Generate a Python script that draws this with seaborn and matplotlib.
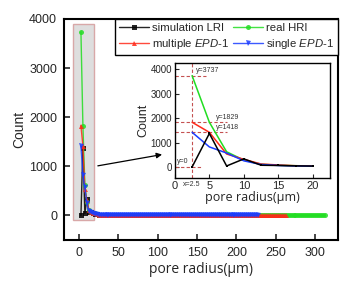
import numpy as np
import matplotlib
matplotlib.use("Agg")
import matplotlib.pyplot as plt
import matplotlib.transforms as mtransforms
from matplotlib.patches import Rectangle
import seaborn as sns

sns.set_style("ticks")
plt.rcParams['font.family'] = ['Liberation Sans', 'DejaVu Sans']
plt.rcParams['mathtext.fontset'] = 'custom'
plt.rcParams['mathtext.it'] = 'Liberation Sans:italic'
plt.rcParams['mathtext.rm'] = 'Liberation Sans'

# counts per 2.5 um radius bin (first bin centred at 2.5 um)
BIN = 2.5
lri_head = [0, 1370, 40, 330, 70, 60, 45, 35]
hri_head = [3737, 1829, 620, 280, 110, 70, 50, 40]
multi_head = [1829, 1418, 530, 310, 120, 80, 50, 40]
single_head = [1418, 820, 570, 250, 100, 60, 40, 30]
tail_small = [20, 15, 10, 5]

# series run out to different largest radii (zero counts beyond 30 um)
lri = lri_head + tail_small + [0] * 60       # ~180 um
hri = hri_head + tail_small + [0] * 113      # ~312 um
multi = multi_head + tail_small + [0] * 93   # ~262 um
single = single_head + tail_small + [0] * 79 # ~227 um

series = {
    'simulation LRI': (lri, 'black', 's'),
    'real HRI': (hri, '#22dd22', 'o'),
    'multiple $\\mathit{EPD}$-1': (multi, '#ff2a1a', '^'),
    'single $\\mathit{EPD}$-1': (single, '#1a3cff', 'v'),
}
draw_order = ['simulation LRI', 'real HRI', 'multiple $\\mathit{EPD}$-1', 'single $\\mathit{EPD}$-1']
legend_order = ['simulation LRI', 'multiple $\\mathit{EPD}$-1', 'real HRI', 'single $\\mathit{EPD}$-1']

# annotated values in the zoom panel
marks_y = [3737, 1829, 1418, 0]
mark_x = 2.5

fig = plt.figure(figsize=(3.49, 2.87), dpi=100)
ax = fig.add_axes([0.1834, 0.1638, 0.7851, 0.77])

ax.add_patch(Rectangle((-7.5, -100), 26.5, 4000, facecolor='#dedede',
                       edgecolor='#d8a8a8', lw=1, zorder=0))

handles = {}
for name in draw_order:
    vals, color, mk = series[name]
    x = BIN * np.arange(1, len(vals) + 1)
    sns.lineplot(x=x, y=vals, ax=ax, color=color, marker=mk, markersize=3.6,
                 markeredgewidth=0, linewidth=1, alpha=0.85, label=name)
    handles[name] = ax.get_lines()[-1]

ax.set_xlim(-19, 329)
ax.set_ylim(-500, 4000)
ax.set_xticks([0, 50, 100, 150, 200, 250, 300])
ax.set_yticks([0, 1000, 2000, 3000, 4000])
ax.tick_params(direction='in', length=4, width=1.2, labelsize=9, pad=5)
for s in ax.spines.values():
    s.set_linewidth(1.5)
    s.set_color('black')
ax.set_xlabel('pore radius(μm)', fontsize=10, family=['Open Sans', 'DejaVu Sans'], labelpad=2)
ax.set_ylabel('Count', fontsize=10, labelpad=2)

leg = ax.legend([handles[n] for n in legend_order], legend_order, ncol=2,
                loc='upper right', bbox_to_anchor=(1, 1), borderaxespad=0,
                frameon=True, fancybox=False, edgecolor='black', framealpha=1,
                fontsize=8.2, handlelength=2.6, handletextpad=0.3,
                columnspacing=0.3, borderpad=0.35, labelspacing=0.35)
leg.get_frame().set_linewidth(1.0)

ax.annotate('', xy=(109, 1250), xytext=(20.5, 1000),
            arrowprops=dict(arrowstyle='-|>', color='black', lw=0.9,
                            mutation_scale=8))

# zoom panel
ax_in = fig.add_axes([0.501, 0.380, 0.445, 0.400])
ax_in.set_facecolor('white')
for name in ['real HRI', 'multiple $\\mathit{EPD}$-1', 'single $\\mathit{EPD}$-1', 'simulation LRI']:
    vals, color, mk = series[name]
    head = vals[:8]
    x = BIN * np.arange(1, len(head) + 1)
    sns.lineplot(x=x, y=head, ax=ax_in, color=color, linewidth=1.1,
                 marker='s' if name == 'simulation LRI' else None,
                 markersize=1.8, markeredgewidth=0)

dash = dict(color='#c45050', lw=0.8, ls=(0, (3, 2)), zorder=1)
ax_in.axvline(mark_x, **dash)
for yv, xe in zip(marks_y, [4.5, 7.6, 7.6, 3.8]):
    ax_in.plot([0, xe], [yv, yv], **dash)
ax_in.text(3.1, 3737 + 60, 'y=3737', fontsize=5, va='bottom', color='#333333')
ax_in.text(6.0, 1829 + 60, 'y=1829', fontsize=5, va='bottom', color='#333333')
ax_in.text(6.0, 1418 + 60, 'y=1418', fontsize=5, va='bottom', color='#333333')
ax_in.text(0.3, 60, 'y=0', fontsize=5, va='bottom', color='#333333')
trans = mtransforms.blended_transform_factory(ax_in.transData, ax_in.transAxes)
ax_in.text(mark_x, -0.03, 'x=2.5', fontsize=5, ha='center', va='top',
           transform=trans, color='#333333')

ax_in.set_xlim(0, 22.5)
ax_in.set_ylim(-450, 4250)
ax_in.set_xticks([0, 5, 10, 15, 20])
ax_in.set_yticks([0, 1000, 2000, 3000, 4000])
ax_in.tick_params(direction='in', length=3, width=0.8, pad=2)
ax_in.tick_params(axis='x', labelsize=8)
ax_in.tick_params(axis='y', labelsize=7)
for s in ax_in.spines.values():
    s.set_linewidth(1.0)
    s.set_color('black')
ax_in.set_xlabel('pore radius(μm)', fontsize=9, family=['Open Sans', 'DejaVu Sans'], labelpad=0)
ax_in.set_ylabel('Count', fontsize=9, labelpad=1)

fig.savefig('out.png', dpi=100)
